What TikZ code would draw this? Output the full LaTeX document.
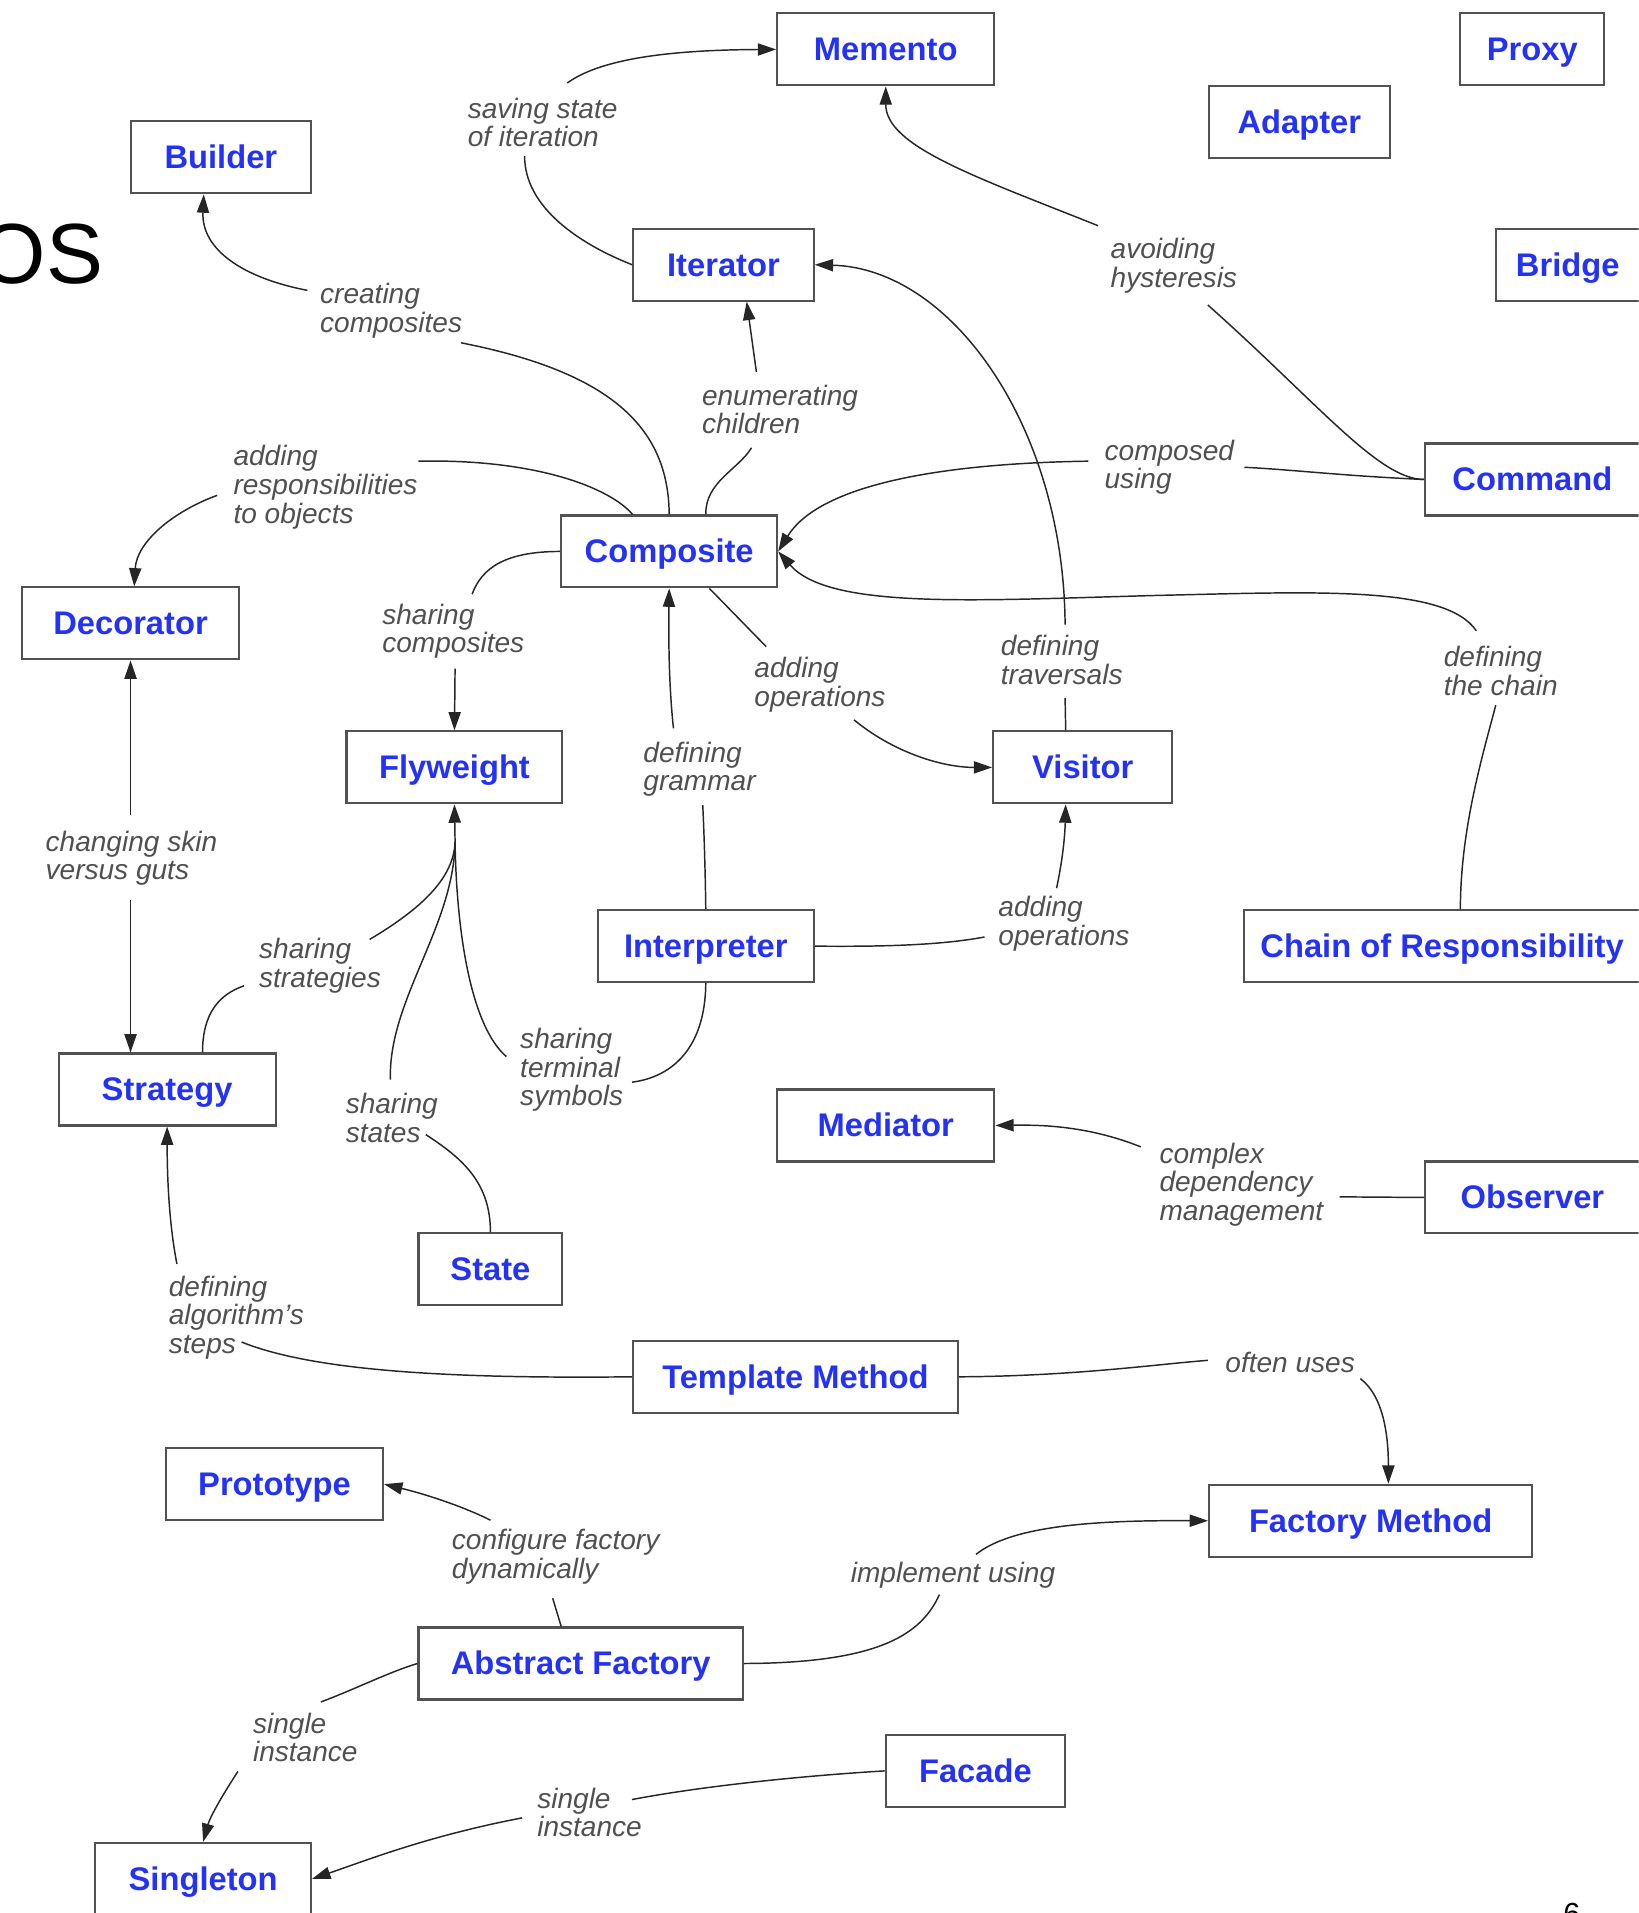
\documentclass[tikz,border=0pt]{standalone}
\usepackage{fontspec}
\setmainfont{Liberation Sans}
\usetikzlibrary{arrows.meta}
\definecolor{boxblue}{RGB}{35,50,245}
\definecolor{lblgray}{RGB}{80,80,80}
\tikzset{
 pbox/.style={draw=black!68, line width=0.85pt, fill=white, minimum height=29.5pt, inner sep=0pt, text height=9.4pt, text depth=0pt, font=\fontsize{13.4}{16}\selectfont\bfseries, text=boxblue},
 lbl/.style={anchor=west, inner sep=0pt, align=left, font=\fontsize{11.5}{11.75}\selectfont\itshape, text=lblgray},
 conn/.style={line width=0.6pt, draw=black!85},
 arr/.style={conn, -{Triangle[length=7.5pt,width=5pt]}},
}
\begin{document}
\begin{tikzpicture}[x=0.5pt,y=-0.5pt]
\useasboundingbox (0,0) rectangle (1343,1568);
\clip (0,0) rectangle (1343,1568);

% page remnants
\node[anchor=base east, inner sep=0pt, font=\fontsize{35}{40}\selectfont, text=black] (title) at (85,232) {OS};
\node[anchor=base west, inner sep=0pt, font=\fontsize{12.5}{14}\selectfont, text=black] (pgnum) at (1281,1577) {6};

% boxes
\node[pbox, minimum width=89pt] (memento) at (726,40.5) {Memento};
\node[pbox, minimum width=59pt] (proxy) at (1256,40.5) {Proxy};
\node[pbox, minimum width=74pt] (adapter) at (1065,100) {Adapter};
\node[pbox, minimum width=74pt] (builder) at (181,129) {Builder};
\node[pbox, minimum width=74pt] (iterator) at (593,217) {Iterator};
\node[pbox, minimum width=59pt] (bridge) at (1285,217) {Bridge};
\node[pbox, minimum width=88pt] (command) at (1256,393) {Command};
\node[pbox, minimum width=88.5pt] (composite) at (548.5,452) {Composite};
\node[pbox, minimum width=89pt] (decorator) at (107,511) {Decorator};
\node[pbox, minimum width=88.5pt] (flyweight) at (372.5,629) {Flyweight};
\node[pbox, minimum width=73.5pt] (visitor) at (887.5,629) {Visitor};
\node[pbox, minimum width=88.5pt] (interpreter) at (578.5,775.5) {Interpreter};
\node[pbox, minimum width=162pt] (chain) at (1182,775.5) {Chain of Responsibility};
\node[pbox, minimum width=89pt] (strategy) at (137,893) {Strategy};
\node[pbox, minimum width=89pt] (mediator) at (726,922.5) {Mediator};
\node[pbox, minimum width=88pt] (observer) at (1256,981.5) {Observer};
\node[pbox, minimum width=59pt] (state) at (402,1040.5) {State};
\node[pbox, minimum width=133pt] (templ) at (652,1128.5) {Template Method};
\node[pbox, minimum width=89pt] (prototype) at (225,1216.5) {Prototype};
\node[pbox, minimum width=132.5pt] (factory) at (1123.5,1246.5) {Factory Method};
\node[pbox, minimum width=133pt] (abstract) at (476,1363.5) {Abstract Factory};
\node[pbox, minimum width=73.5pt] (facade) at (799.5,1451.5) {Facade};
\node[pbox, minimum width=88.5pt] (singleton) at (166.5,1540) {Singleton};

% labels
\node[lbl] (l1) at (383,100.5) {saving state\\of iteration};
\node[lbl] (l2) at (262,254.5) {creating\\composites};
\node[lbl] (l3) at (575,335.5) {enumerating\\children};
\node[lbl] (l4) at (910,218) {avoiding\\hysteresis};
\node[lbl] (l5) at (191,399.5) {adding\\responsibilities\\to objects};
\node[lbl] (l6) at (905,383) {composed\\using};
\node[lbl] (l7) at (313,517.5) {sharing\\composites};
\node[lbl] (l8) at (618,561.5) {adding\\operations};
\node[lbl] (l9) at (820,541) {defining\\traversals};
\node[lbl] (l10) at (1183,550) {defining\\the chain};
\node[lbl] (l11) at (527,630.5) {defining\\grammar};
\node[lbl] (l12) at (37,703.5) {changing skin\\versus guts};
\node[lbl] (l13) at (818,757) {adding\\operations};
\node[lbl] (l14) at (212,791.5) {sharing\\strategies};
\node[lbl] (l15) at (426,877) {sharing\\terminal\\symbols};
\node[lbl] (l16) at (283,916.5) {sharing\\states};
\node[lbl] (l17) at (950,971) {complex\\dependency\\management};
\node[lbl] (l18) at (138,1080) {defining\\algorithm's\\steps};
\node[lbl] (l19) at (1004,1117) {often uses};
\node[lbl] (l20) at (370,1276) {configure factory\\dynamically};
\node[lbl] (l21) at (697,1291) {implement using};
\node[lbl] (l22) at (207,1424) {single\\instance};
\node[lbl] (l23) at (440,1485.5) {single\\instance};

% free ends next to labels
\coordinate (c1a) at (430,128);  \coordinate (c1b) at (465,68);
\coordinate (c2a) at (378,281);  \coordinate (c2b) at (252,238);
\coordinate (c3a) at (616,367);  \coordinate (c3b) at (620,305);
\coordinate (c4a) at (343,378);  \coordinate (c4b) at (178,406);
\coordinate (c5a) at (387,487);  \coordinate (c5b) at (373,548);
\coordinate (c6a) at (576,660);  \coordinate (c6b) at (552,597);
\coordinate (c7a) at (628,530);  \coordinate (c7b) at (700,590);
\coordinate (c8a) at (873,572);  \coordinate (c8b) at (873,512);
\coordinate (c9a) at (990,250);  \coordinate (c9b) at (900,185);
\coordinate (c10a) at (1020,383); \coordinate (c10b) at (892,378);
\coordinate (c11a) at (1226,578); \coordinate (c11b) at (1210,517);
\coordinate (c12a) at (807,768);  \coordinate (c12b) at (866,728);
\coordinate (c13a) at (107,668);  \coordinate (c13b) at (107,738);
\coordinate (c14a) at (200,808);  \coordinate (c14b) at (303,770);
\coordinate (c15a) at (349,930);  \coordinate (c15b) at (320,885);
\coordinate (c16a) at (518,887);  \coordinate (c16b) at (415,866);
\coordinate (fwjoin) at (373,690);
\coordinate (c17a) at (198,1100); \coordinate (c17b) at (145,1036);
\coordinate (c18a) at (990,1115); \coordinate (c18b) at (1115,1130);
\coordinate (c19a) at (1098,981); \coordinate (c19b) at (935,940);
\coordinate (c20a) at (453,1310); \coordinate (c20b) at (402,1246);
\coordinate (c21a) at (770,1307); \coordinate (c21b) at (800,1274);
\coordinate (c22a) at (263,1395); \coordinate (c22b) at (195,1452);
\coordinate (c23a) at (518,1475); \coordinate (c23b) at (428,1490);

% connectors
% saving state of iteration
\draw[conn] (iterator.west) .. controls (475,200) and (430,170) .. (c1a);
\draw[arr] (c1b) .. controls (490,50) and (540,41) .. (memento.west);
% creating composites
\draw[conn] (composite.north) .. controls (548,350) and (500,305) .. (c2a);
\draw[arr] (c2b) .. controls (200,228) and (165,205) .. ([xshift=-7pt]builder.south);
% enumerating children
\draw[conn] ([xshift=15pt]composite.north) .. controls (578,395) and (605,385) .. (c3a);
\draw[arr] (c3b) -- ([xshift=9.5pt]iterator.south);
% adding responsibilities to objects
\draw[conn] ([xshift=-15pt]composite.north) .. controls (500,400) and (440,376) .. (c4a);
\draw[arr] (c4b) .. controls (140,420) and (112,445) .. ([xshift=1.5pt]decorator.north);
% sharing composites
\draw[conn] (composite.west) .. controls (415,452) and (395,465) .. (c5a);
\draw[arr] (c5b) -- (flyweight.north);
% defining grammar
\draw[conn] (interpreter.north) .. controls (578,710) and (577,680) .. (c6a);
\draw[arr] (c6b) .. controls (548,560) and (548,520) .. (composite.south);
% adding operations (composite - visitor)
\draw[conn] ([xshift=16.5pt]composite.south) -- (c7a);
\draw[arr] (c7b) .. controls (730,615) and (770,629) .. (visitor.west);
% defining traversals
\draw[conn] ([xshift=-7pt]visitor.north) -- (c8a);
\draw[arr] (c8b) .. controls (872,350) and (780,220) .. (iterator.east);
% avoiding hysteresis
\draw[conn] (command.west) .. controls (1130,393) and (1080,330) .. (c9a);
\draw[arr] (c9b) .. controls (800,145) and (726,120) .. (memento.south);
% composed using
\draw[conn] (command.west) .. controls (1100,390) and (1060,385) .. (c10a);
\draw[arr] (c10b) .. controls (760,380) and (670,400) .. (composite.east);
% defining the chain
\draw[conn] ([xshift=7.5pt]chain.north) .. controls (1197,680) and (1215,620) .. (c11a);
\draw[arr] (c11b) .. controls (1185,480) and (1080,485) .. (950,488) .. controls (800,492) and (680,500) .. (composite.east);
% adding operations (interpreter - visitor)
\draw[conn] (interpreter.east) .. controls (720,776) and (770,775) .. (c12a);
\draw[arr] (c12b) .. controls (872,700) and (873,680) .. ([xshift=-7pt]visitor.south);
% changing skin versus guts
\draw[arr] (c13a) -- (decorator.south);
\draw[arr] (c13b) -- ([xshift=-15pt]strategy.north);
% sharing strategies / states / terminal symbols
\draw[conn] ([xshift=14.5pt]strategy.north) .. controls (166,830) and (180,815) .. (c14a);
\draw[conn] (c14b) .. controls (345,745) and (372,720) .. (fwjoin);
\draw[conn] (state.north) .. controls (402,970) and (380,950) .. (c15a);
\draw[conn] (c15b) .. controls (318,820) and (372,760) .. (fwjoin);
\draw[conn] (interpreter.south) .. controls (578,860) and (550,883) .. (c16a);
\draw[conn] (c16b) .. controls (385,840) and (374,760) .. (fwjoin);
\draw[arr] (fwjoin) -- (flyweight.south);
% defining algorithm's steps
\draw[conn] (templ.west) .. controls (380,1130) and (260,1125) .. (c17a);
\draw[arr] (c17b) .. controls (138,1000) and (137,960) .. (strategy.south);
% often uses
\draw[conn] (templ.east) .. controls (880,1128) and (950,1118) .. (c18a);
\draw[arr] (c18b) .. controls (1135,1145) and (1138,1180) .. ([xshift=7.25pt]factory.north);
% complex dependency management
\draw[conn] (observer.west) -- (c19a);
\draw[arr] (c19b) .. controls (890,922) and (850,922) .. (mediator.east);
% configure factory dynamically
\draw[conn] ([xshift=-8pt]abstract.north) -- (c20a);
\draw[arr] (c20b) .. controls (380,1235) and (350,1225) .. (prototype.east);
% implement using
\draw[conn] (abstract.east) .. controls (720,1363) and (755,1340) .. (c21a);
\draw[arr] (c21b) .. controls (830,1250) and (900,1246) .. (factory.west);
% single instance (abstract factory)
\draw[conn] (abstract.west) .. controls (320,1370) and (290,1385) .. (c22a);
\draw[arr] (c22b) .. controls (180,1475) and (172,1490) .. (singleton.north);
% single instance (facade)
\draw[conn] (facade.west) .. controls (650,1456) and (570,1465) .. (c23a);
\draw[arr] (c23b) .. controls (350,1505) and (300,1525) .. (singleton.east);
\end{tikzpicture}
\end{document}
